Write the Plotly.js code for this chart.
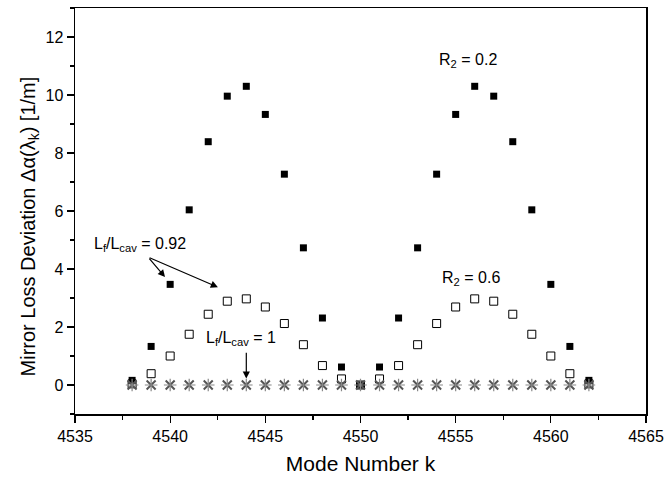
<!DOCTYPE html>
<html>
<head>
<meta charset="utf-8">
<script src="https://cdn.plot.ly/plotly-3.0.1.min.js"></script>
<style>html,body{margin:0;padding:0;background:#fff;}#chart{width:667px;height:479px;}</style>
</head>
<body>
<div id="chart"></div>
<script>
// Mode numbers k
var modeK = [4538,4539,4540,4541,4542,4543,4544,4545,4546,4547,4548,4549,4550,4551,4552,4553,4554,4555,4556,4557,4558,4559,4560,4561,4562];
// R2 = 0.2, Lf/Lcav = 0.92 (filled squares)
var devR02 = [0.16,1.33,3.47,6.04,8.39,9.96,10.30,9.33,7.27,4.73,2.31,0.62,0,0.62,2.31,4.73,7.27,9.33,10.30,9.96,8.39,6.04,3.47,1.33,0.16];
// R2 = 0.6, Lf/Lcav = 0.92 (open squares)
var devR06 = [0.04,0.39,1.00,1.75,2.44,2.89,2.97,2.69,2.12,1.39,0.67,0.21,0,0.21,0.67,1.39,2.12,2.69,2.97,2.89,2.44,1.75,1.00,0.39,0.04];
// Lf/Lcav = 1 (stars)
var devL1 = [0,0,0,0,0,0,0,0,0,0,0,0,0,0,0,0,0,0,0,0,0,0,0,0,0];

var xTickVals = [4535,4540,4545,4550,4555,4560,4565];
var yTickVals = [0,2,4,6,8,10,12];

var font = "Liberation Sans, Arial, sans-serif";

var traces = [
  {x: modeK, y: devR02, mode: 'markers', type: 'scatter',
   marker: {symbol: 'square', size: 7, color: '#000', line: {width: 0}}},
  {x: modeK, y: devR06, mode: 'markers', type: 'scatter',
   marker: {symbol: 'square-open', size: 8, color: '#000', line: {width: 1}}},
  {x: modeK, y: devL1, mode: 'markers', type: 'scatter',
   marker: {symbol: 'x-thin-open', size: 9, color: '#555', line: {width: 2, color: '#555'}}},
  {x: modeK, y: devL1, mode: 'markers', type: 'scatter',
   marker: {symbol: 'cross-thin-open', size: 9, color: '#888', line: {width: 1.2, color: '#888'}}}
];

var annFont = {family: font, size: 16, color: '#000'};

var layout = {
  width: 667, height: 479,
  margin: {l: 75, r: 21, t: 8, b: 65},
  paper_bgcolor: '#fff', plot_bgcolor: '#fff',
  showlegend: false,
  font: {family: font, color: '#000'},
  xaxis: {
    range: [4535, 4565], tickvals: xTickVals, ticktext: xTickVals.map(String),
    ticks: 'outside', ticklen: 7, tickwidth: 1.2, tickcolor: '#000',
    minor: {dtick: 2.5, tick0: 4535, ticks: 'outside', ticklen: 4, tickwidth: 1.2, tickcolor: '#000'},
    showline: true, linecolor: '#000', linewidth: 1.5, mirror: true,
    showgrid: false, zeroline: false,
    tickfont: {family: font, size: 16, color: '#000'},
    title: {text: 'Mode Number k', font: {family: font, size: 21, color: '#000'}, standoff: 12}
  },
  yaxis: {
    range: [-1, 13], tickvals: yTickVals, ticktext: yTickVals.map(String),
    ticks: 'outside', ticklen: 7, tickwidth: 1.2, tickcolor: '#000',
    minor: {dtick: 1, tick0: 0, ticks: 'outside', ticklen: 4, tickwidth: 1.2, tickcolor: '#000'},
    showline: true, linecolor: '#000', linewidth: 1.5, mirror: true,
    showgrid: false, zeroline: false,
    tickfont: {family: font, size: 16, color: '#000'}
  },
  xaxis2: {
    overlaying: 'x', side: 'top', range: [4535, 4565], tickvals: xTickVals,
    ticks: 'inside', ticklen: 7, tickwidth: 1.2, tickcolor: '#000',
    minor: {dtick: 2.5, tick0: 4535, ticks: 'inside', ticklen: 4, tickwidth: 1.2, tickcolor: '#000'},
    showticklabels: false, showline: false, showgrid: false, zeroline: false
  },
  yaxis2: {
    overlaying: 'y', side: 'right', range: [-1, 13], tickvals: yTickVals,
    ticks: 'inside', ticklen: 7, tickwidth: 1.2, tickcolor: '#000',
    minor: {dtick: 1, tick0: 0, ticks: 'inside', ticklen: 4, tickwidth: 1.2, tickcolor: '#000'},
    showticklabels: false, showline: false, showgrid: false, zeroline: false
  },
  annotations: [
    {xref: 'paper', yref: 'y', x: 0, xshift: -60, y: 5.45, textangle: -90,
     text: 'Mirror Loss Deviation \u0394\u03b1(\u03bb<sub>k</sub>) [1/m]', showarrow: false,
     font: {family: font, size: 20, color: '#000'}},
    {xref: 'x', yref: 'y', x: 4555.65, y: 11.2, text: 'R<sub>2</sub> = 0.2', showarrow: false, font: annFont},
    {xref: 'x', yref: 'y', x: 4555.8, y: 3.66, text: 'R<sub>2</sub> = 0.6', showarrow: false, font: annFont},
    {xref: 'x', yref: 'y', x: 4538.42, y: 4.85, text: 'L<sub>f</sub>/L<sub>cav</sub> = 0.92', showarrow: false, font: annFont},
    {xref: 'x', yref: 'y', x: 4543.72, y: 1.62, text: 'L<sub>f</sub>/L<sub>cav</sub> = 1', showarrow: false, font: annFont},
    {xref: 'x', yref: 'y', axref: 'x', ayref: 'y', x: 4539.73, y: 3.72, ax: 4538.84, ay: 4.41,
     text: '', showarrow: true, arrowhead: 2, arrowsize: 1.2, arrowwidth: 1.2, arrowcolor: '#000', standoff: 0, startstandoff: 0},
    {xref: 'x', yref: 'y', axref: 'x', ayref: 'y', x: 4542.51, y: 3.37, ax: 4538.84, ay: 4.41,
     text: '', showarrow: true, arrowhead: 2, arrowsize: 1.2, arrowwidth: 1.2, arrowcolor: '#000', standoff: 0, startstandoff: 0},
    {xref: 'x', yref: 'y', axref: 'x', ayref: 'y', x: 4544.0, y: 0.22, ax: 4544.0, ay: 1.16,
     text: '', showarrow: true, arrowhead: 2, arrowsize: 1.2, arrowwidth: 1.2, arrowcolor: '#000', standoff: 0, startstandoff: 0}
  ]
};

Plotly.newPlot('chart', traces, layout, {displayModeBar: false, staticPlot: true});
</script>
</body>
</html>
